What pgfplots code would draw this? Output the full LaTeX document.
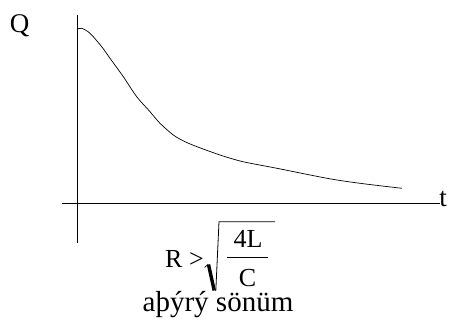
\documentclass[border=0pt]{standalone}
\usepackage{fontspec}
\setmainfont{Liberation Serif}
\usepackage{pgfplots}
\pgfplotsset{compat=1.18}
\begin{document}
\begin{tikzpicture}[x=1pt,y=1pt]
\useasboundingbox (0,0) rectangle (453,329);
\begin{axis}[
  at={(62pt,86pt)}, anchor=south west,
  scale only axis, width=378pt, height=228pt,
  xmin=-15, xmax=363, ymin=-40, ymax=188,
  axis lines=middle, axis line style={-, black, line width=0.7pt},
  xtick=\empty, ytick=\empty,
  clip=false,
]
% charge on the capacitor, overdamped discharge
\addplot[black, line width=0.7pt, smooth, tension=0.5] coordinates {
  (0,173.7) (4.7,174.7) (13,169.7) (24.7,156.3) (33,144.7) (46.3,126.3)
  (59.7,106.3) (73,91.3) (83,79.7) (96.3,68) (108,61.3) (120,56.3)
  (143,48) (166,41.3) (200,34.7) (250,24.7) (283,19.7) (325,14.7)
};
\end{axis}
\node[anchor=base, font=\fontsize{27}{30}\selectfont] at (19.5,296) {Q};
\node[anchor=base, font=\fontsize{27}{30}\selectfont] at (443,122) {t};
% condition for overdamping: R > sqrt(4L/C)
\node[anchor=base west, inner sep=0pt, font=\fontsize{26}{28}\selectfont] at (165,61) {R >};
\node[anchor=base, inner sep=0pt, font=\fontsize{26}{28}\selectfont] at (248,81) {4L};
\node[anchor=base, inner sep=0pt, font=\fontsize{26}{28}\selectfont] at (247.5,42) {C};
\draw[line width=1pt] (227,71) -- (268,71);
\draw[line width=0.7pt] (204.5,61.5) -- (208,64.5);
\draw[line width=3.4pt, line cap=butt] (208.5,64.5) -- (214.2,38.5);
\draw[line width=0.8pt] (215.8,38) -- (219,107.3) -- (275,107.3);
\node[anchor=base, font=\fontsize{29}{32}\selectfont] at (218,17.3) {aþýrý sönüm};
\end{tikzpicture}
\end{document}
